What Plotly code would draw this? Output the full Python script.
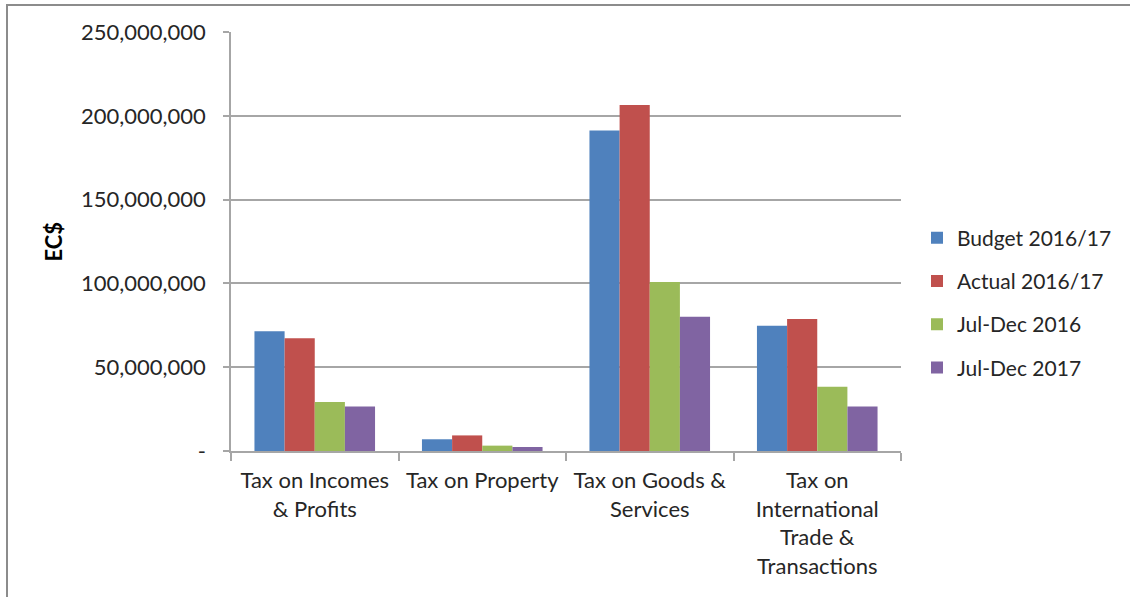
import plotly.graph_objects as go

categories = [
    "Tax on Incomes<br>& Profits",
    "Tax on Property",
    "Tax on Goods &<br>Services",
    "Tax on<br>International<br>Trade &<br>Transactions",
]
budget_2016_17 = [71400000, 7000000, 191200000, 74800000]
actual_2016_17 = [67200000, 9300000, 206500000, 78800000]
jul_dec_2016 = [29300000, 3200000, 100900000, 38300000]
jul_dec_2017 = [26500000, 2400000, 80100000, 26500000]

series_names = ["Budget 2016/17", "Actual 2016/17", "Jul-Dec 2016", "Jul-Dec 2017"]
series_values = [budget_2016_17, actual_2016_17, jul_dec_2016, jul_dec_2017]
colors = ["#4F81BD", "#C0504D", "#9BBB59", "#8064A2"]

y_tickvals = [0, 50000000, 100000000, 150000000, 200000000, 250000000]
y_ticktext = ["-", "50,000,000", "100,000,000", "150,000,000", "200,000,000", "250,000,000"]

FONT = "Lato"
TXT = "#262626"
GRID = "#A6A6A6"

fig = go.Figure()
for i, (name, vals, col) in enumerate(zip(series_names, series_values, colors)):
    fig.add_trace(go.Bar(
        x=categories, y=vals, name=name, legendgroup=f"g{i}",
        marker=dict(color=col, line=dict(width=0)),
    ))

W, H = 1130, 597
L, R, T, B = 231, 229, 32, 146
pw = W - L - R
ph = H - T - B

fig.update_layout(
    width=W, height=H,
    margin=dict(l=L, r=R, t=T, b=B, pad=0),
    paper_bgcolor="white", plot_bgcolor="white",
    barmode="group", bargap=0.28, bargroupgap=0,
    font=dict(family=FONT, size=22, color=TXT),
    showlegend=True,
    legend=dict(
        x=(917 - L) / pw, xanchor="left",
        y=(H - B - 303) / ph, yanchor="middle",
        font=dict(family=FONT, size=21, color=TXT),
        tracegroupgap=13, bgcolor="rgba(0,0,0,0)",
    ),
    xaxis=dict(
        showgrid=False, showline=True, linecolor=GRID, linewidth=1.5,
        ticks="outside", tickson="boundaries", ticklen=8, tickcolor=GRID, tickwidth=1.5,
        tickfont=dict(family=FONT, size=22, color=TXT),
        tickangle=0, automargin=False,
        ticklabelstandoff=9,
    ),
    yaxis=dict(
        range=[0, 250000000], tickvals=y_tickvals, ticktext=y_ticktext,
        showgrid=True, gridcolor=GRID, gridwidth=1.5,
        showline=True, linecolor=GRID, linewidth=1.5,
        ticks="outside", ticklen=6, tickcolor=GRID, tickwidth=1.5,
        tickfont=dict(family=FONT, size=22, color=TXT),
        ticklabelstandoff=13, zeroline=False, automargin=False,
    ),
    annotations=[dict(
        text="<b>EC$</b>", textangle=-90, showarrow=False,
        xref="paper", yref="paper", x=(53 - L) / pw, y=0.5,
        xanchor="center", yanchor="middle",
        font=dict(family=FONT, size=22, color="#000000"),
    )],
    shapes=[dict(
        type="rect", xref="paper", yref="paper",
        x0=(7 - L) / pw, x1=(W + 20 - L) / pw,
        y0=-(B + 20) / ph, y1=(H - B - 5) / ph,
        line=dict(color="#8C8C8C", width=2), fillcolor="rgba(0,0,0,0)", layer="below",
    )],
)

fig.write_html("out.html")
